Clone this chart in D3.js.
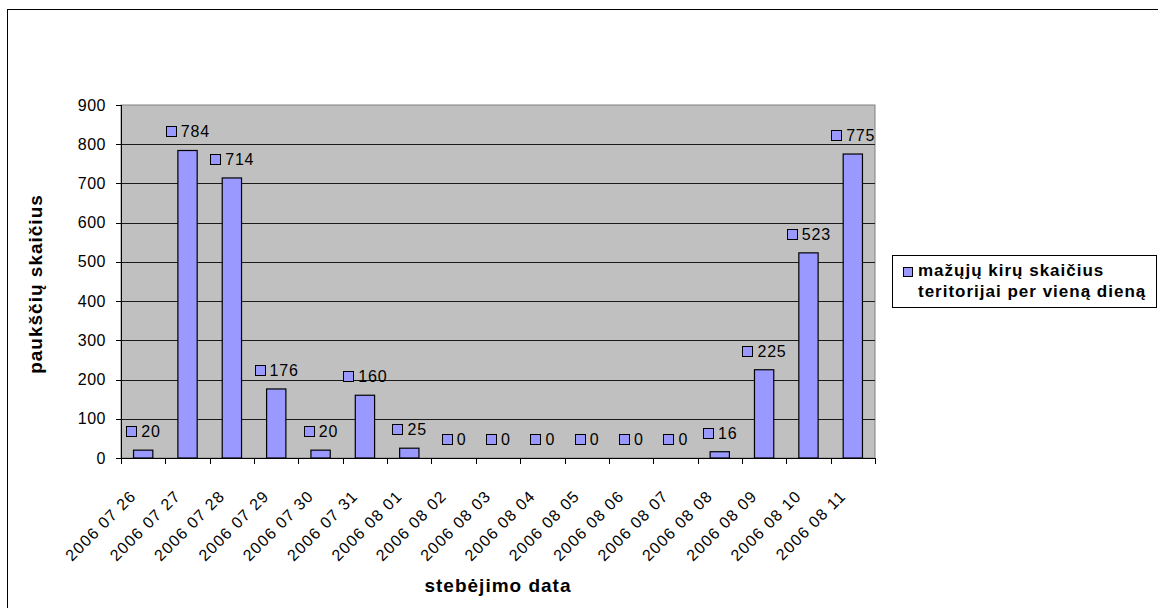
<!DOCTYPE html>
<html>
<head>
<meta charset="utf-8">
<script src="https://cdn.jsdelivr.net/npm/d3@7"></script>
<style>
	body { margin: 0; background: #fff; }
	svg { display: block; }
	text { font-family: "Liberation Sans", Arial, sans-serif; fill: #000; }
	.tick-label { font-size: 16px; letter-spacing: 0.5px; }
	.date-label { font-size: 16px; letter-spacing: 1.2px; }
	.value-label { font-size: 16px; letter-spacing: 0.8px; }
	.axis-title { font-size: 19px; font-weight: bold; letter-spacing: 1px; }
	.legend-text { font-size: 17px; font-weight: bold; letter-spacing: 1px; }
</style>
</head>
<body>
<div id="chart"></div>
<script>
// data
var dates = ["2006 07 26", "2006 07 27", "2006 07 28", "2006 07 29",
	"2006 07 30", "2006 07 31", "2006 08 01", "2006 08 02", "2006 08 03",
	"2006 08 04", "2006 08 05", "2006 08 06", "2006 08 07", "2006 08 08",
	"2006 08 09", "2006 08 10", "2006 08 11"];
var counts = [20, 784, 714, 176, 20, 160, 25, 0, 0, 0, 0, 0, 0, 16, 225, 523, 775];
var yTicks = [0, 100, 200, 300, 400, 500, 600, 700, 800, 900];
var seriesName = ["mažųjų kirų skaičius", "teritorijai per vieną dieną"];
var xTitle = "stebėjimo data";
var yTitle = "paukščių skaičius";

var W = 1158, H = 608;
var plot = {left: 121, right: 875, top: 105, bottom: 458};
var barFill = "#9999ff";

var svg = d3.select("#chart").append("svg")
	.attr("width", W)
	.attr("height", H);

// outer chart border (runs off the right and bottom edges)
svg.append("rect")
	.attr("x", 7.5).attr("y", 9.5)
	.attr("width", W + 10).attr("height", H + 10)
	.attr("fill", "#fff")
	.attr("stroke", "#000");

var x = d3.scaleBand()
	.domain(dates)
	.range([plot.left, plot.right])
	.paddingInner(0.565)
	.paddingOuter(0.2825);

var y = d3.scaleLinear()
	.domain([0, 900])
	.range([plot.bottom, plot.top]);

// plot area background
svg.append("rect")
	.attr("x", plot.left).attr("y", plot.top)
	.attr("width", plot.right - plot.left)
	.attr("height", plot.bottom - plot.top)
	.attr("fill", "#c0c0c0")
	.attr("stroke", "#808080");

// gridlines
svg.append("g")
	.selectAll("line")
	.data(yTicks.filter(d => d > 0 && d < 900))
	.join("line")
	.attr("x1", plot.left).attr("x2", plot.right)
	.attr("y1", d => Math.round(y(d)) + 0.5)
	.attr("y2", d => Math.round(y(d)) + 0.5)
	.attr("stroke", "#1a1a1a");

// bars
svg.append("g")
	.selectAll("rect")
	.data(counts)
	.join("rect")
	.attr("x", (d, i) => x(dates[i]))
	.attr("y", d => y(d))
	.attr("width", x.bandwidth())
	.attr("height", d => y(0) - y(d))
	.attr("fill", barFill)
	.attr("stroke", "#000")
	.attr("stroke-width", 1.2);

// y axis
var yAxis = svg.append("g");
yAxis.append("line")
	.attr("x1", plot.left + 0.5).attr("x2", plot.left + 0.5)
	.attr("y1", plot.top).attr("y2", plot.bottom)
	.attr("stroke", "#000");
yAxis.selectAll(".ytick")
	.data(yTicks)
	.join("line")
	.attr("x1", plot.left - 5).attr("x2", plot.left)
	.attr("y1", d => Math.round(y(d)) + 0.5)
	.attr("y2", d => Math.round(y(d)) + 0.5)
	.attr("stroke", "#000");
yAxis.selectAll("text")
	.data(yTicks)
	.join("text")
	.attr("class", "tick-label")
	.attr("text-anchor", "end")
	.attr("x", plot.left - 15)
	.attr("y", d => y(d) + 5.6)
	.text(d => d);

// x axis, ticks sit on the category boundaries
var xAxis = svg.append("g");
xAxis.append("line")
	.attr("x1", plot.left).attr("x2", plot.right + 0.5)
	.attr("y1", plot.bottom + 0.5).attr("y2", plot.bottom + 0.5)
	.attr("stroke", "#000");
xAxis.selectAll(".xtick")
	.data(d3.range(dates.length + 1))
	.join("line")
	.attr("x1", i => Math.round(plot.left + i * x.step()) + 0.5)
	.attr("x2", i => Math.round(plot.left + i * x.step()) + 0.5)
	.attr("y1", plot.bottom)
	.attr("y2", plot.bottom + 6)
	.attr("stroke", "#000");
xAxis.selectAll("text")
	.data(dates)
	.join("text")
	.attr("class", "date-label")
	.attr("text-anchor", "end")
	.attr("transform", d => "translate(" + (x(d) + x.bandwidth() / 2 - 6) +
		"," + (plot.bottom + 39) + ") rotate(-45)")
	.text(d => d);

// value labels: small legend key + number, centred over each bar
var labels = svg.append("g")
	.selectAll("g")
	.data(counts)
	.join("g");
labels.each(function(d, i) {
	var g = d3.select(this);
	var t = g.append("text")
		.attr("class", "value-label")
		.text(d);
	var tw = t.node().getComputedTextLength() - 0.8;
	var total = 10 + 5 + tw;
	var cx = x(dates[i]) + x.bandwidth() / 2;
	var base = y(d) - 13;
	var left = cx - total / 2;
	g.append("rect")
		.attr("x", Math.round(left) + 0.5)
		.attr("y", Math.round(base - 11) + 0.5)
		.attr("width", 10).attr("height", 10)
		.attr("fill", barFill)
		.attr("stroke", "#000");
	t.attr("x", left + 15).attr("y", base);
});

// axis titles
svg.append("text")
	.attr("class", "axis-title")
	.attr("text-anchor", "middle")
	.attr("x", 498).attr("y", 592)
	.text(xTitle);

svg.append("text")
	.attr("class", "axis-title")
	.attr("text-anchor", "middle")
	.attr("transform", "translate(42,284) rotate(-90)")
	.text(yTitle);

// legend
var legend = svg.append("g");
legend.append("rect")
	.attr("x", 892.5).attr("y", 255.5)
	.attr("width", 264).attr("height", 52)
	.attr("fill", "#fff")
	.attr("stroke", "#000");
legend.append("rect")
	.attr("x", 903.5).attr("y", 267.5)
	.attr("width", 9).attr("height", 9)
	.attr("fill", barFill)
	.attr("stroke", "#000");
legend.selectAll(".legend-text")
	.data(seriesName)
	.join("text")
	.attr("class", "legend-text")
	.attr("x", 918)
	.attr("y", (d, i) => 276 + i * 21)
	.text(d => d);
</script>
</body>
</html>
